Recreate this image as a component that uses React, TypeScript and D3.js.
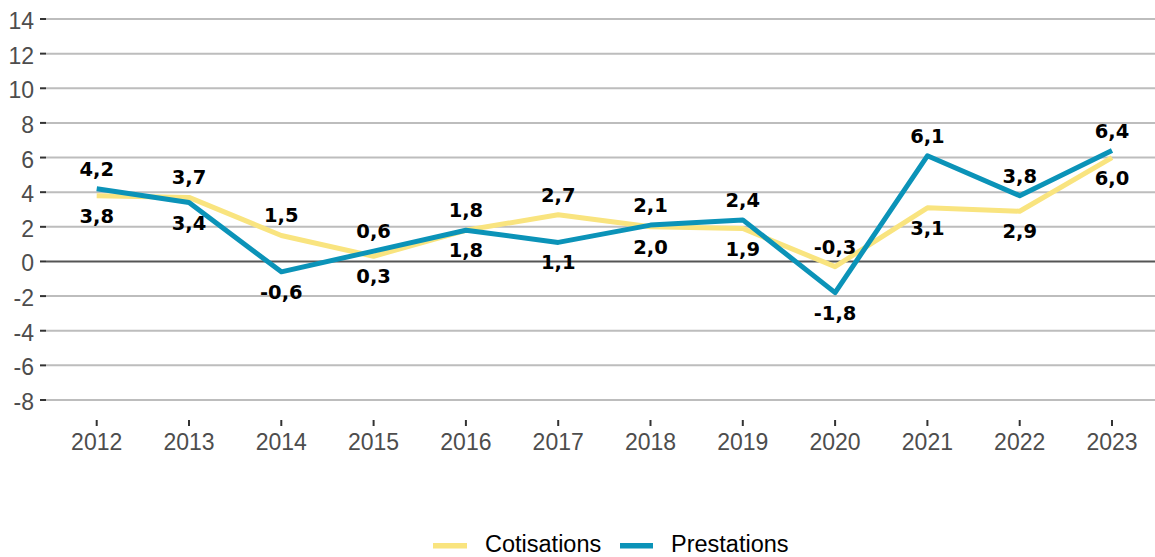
import React from "react";
import * as d3 from "d3";

const years = ["2012","2013","2014","2015","2016","2017","2018","2019","2020","2021","2022","2023"];
const cotisations = [3.8, 3.7, 1.5, 0.3, 1.8, 2.7, 2.0, 1.9, -0.3, 3.1, 2.9, 6.0];
const prestations = [4.2, 3.4, -0.6, 0.6, 1.8, 1.1, 2.1, 2.4, -1.8, 6.1, 3.8, 6.4];
const yTicks = [-8, -6, -4, -2, 0, 2, 4, 6, 8, 10, 12, 14];
const seriesNames = ["Cotisations", "Prestations"];

const W = 1155, H = 557;
const YELLOW = "#f9e47f";
const BLUE = "#0b93b8";

const fmt = (v: number) => v.toFixed(1).replace(".", ",");

export default function App() {
  const x = d3.scalePoint<string>().domain(years).range([96.7, 1112]);
  const y = d3.scaleLinear().domain([-8, 14]).range([400, 19]);
  const line = d3.line<number>().x((_, i) => x(years[i]) as number).y((d) => y(d));

  const labels: { x: number; y: number; t: string }[] = [];
  years.forEach((yr, i) => {
    const c = cotisations[i], p = prestations[i];
    const px = x(yr) as number;
    const pAbove = p >= c;
    const up = pAbove ? p : c;
    const dn = pAbove ? c : p;
    labels.push({ x: px, y: y(up) - 13, t: fmt(up) });
    labels.push({ x: px, y: y(dn) + 27, t: fmt(dn) });
  });

  const series = [
    { name: seriesNames[0], values: cotisations, color: YELLOW },
    { name: seriesNames[1], values: prestations, color: BLUE },
  ];

  return (
    <svg width={W} height={H} style={{ position: "absolute", left: 0, top: 0, background: "#fff" }}
      fontFamily="'Liberation Sans', Arial, sans-serif">
      {yTicks.map((t) => (
        <g key={t}>
          <line x1={46} x2={W} y1={y(t)} y2={y(t)} stroke={t === 0 ? "#555" : "#bdbdbd"} strokeWidth={2} />
          <line x1={40} x2={46} y1={y(t)} y2={y(t)} stroke="#333" strokeWidth={2} />
          <text x={34} y={y(t) + 10} textAnchor="end" fontSize={23} fill="#4d4d4d">{t}</text>
        </g>
      ))}
      {years.map((yr) => (
        <g key={yr}>
          <line x1={x(yr)} x2={x(yr)} y1={420} y2={426} stroke="#333" strokeWidth={2} />
          <text x={x(yr)} y={449.5} textAnchor="middle" fontSize={23} fill="#4d4d4d">{yr}</text>
        </g>
      ))}
      {series.map((s) => (
        <path key={s.name} d={line(s.values) || ""} fill="none" stroke={s.color} strokeWidth={5} strokeLinejoin="round" />
      ))}
      {labels.map((l, i) => (
        <text key={i} x={l.x} y={l.y} textAnchor="middle" fontSize={19.5} fontWeight="bold"
          fontFamily="'DejaVu Sans', sans-serif" fill="#000">{l.t}</text>
      ))}
      <g>
        <line x1={433} x2={467} y1={545.7} y2={545.7} stroke={YELLOW} strokeWidth={5.5} />
        <text x={485} y={552} fontSize={23.5} fill="#000">{seriesNames[0]}</text>
        <line x1={620} x2={653} y1={545.7} y2={545.7} stroke={BLUE} strokeWidth={5.5} />
        <text x={671} y={552} fontSize={23.5} fill="#000">{seriesNames[1]}</text>
      </g>
    </svg>
  );
}
